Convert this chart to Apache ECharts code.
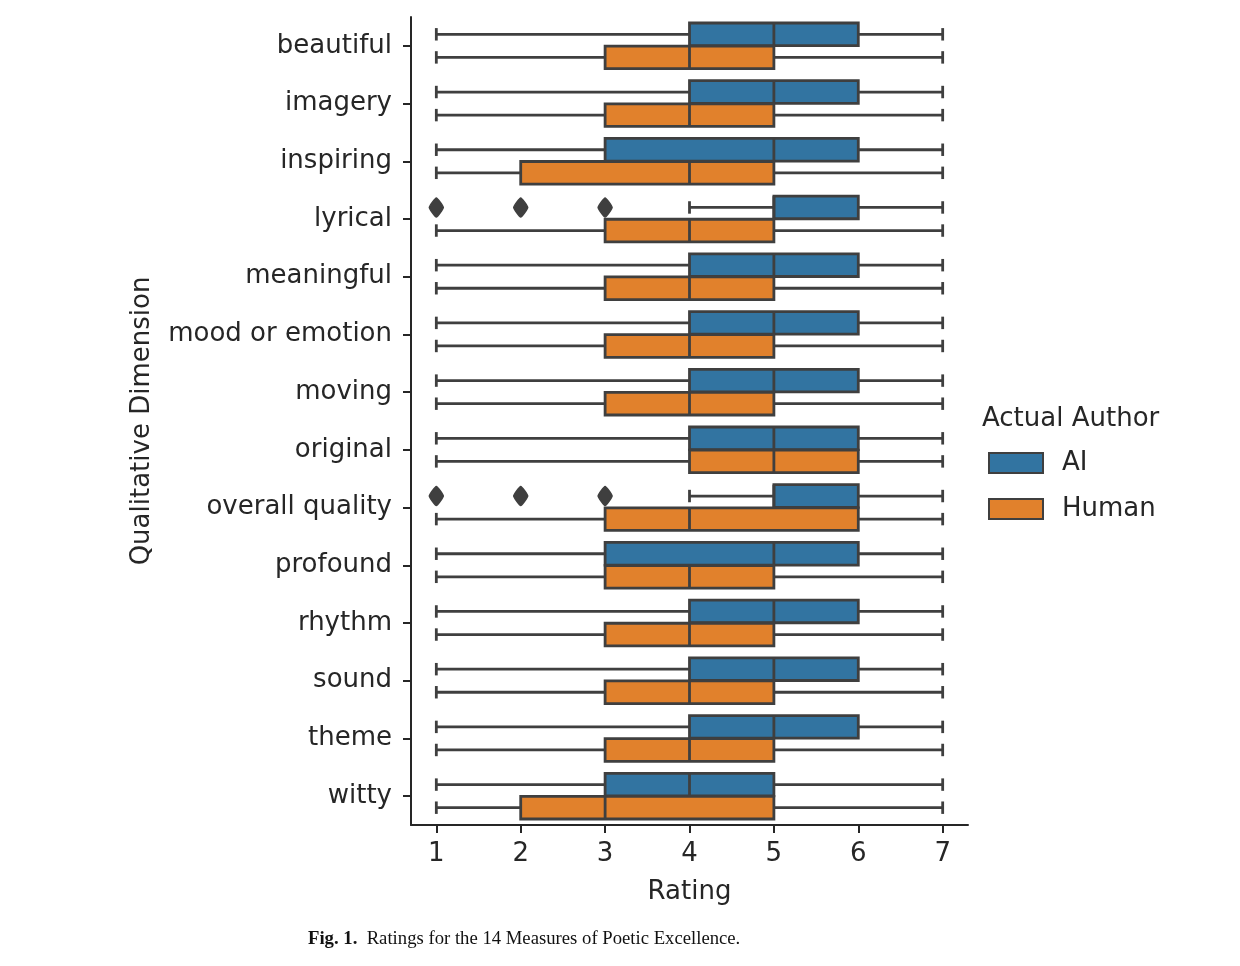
<!DOCTYPE html>
<html>
<head>
<meta charset="utf-8">
<script src="https://cdn.jsdelivr.net/npm/echarts@6/dist/echarts.min.js"></script>
<style>
  html, body { margin: 0; padding: 0; background: #fff; }
  #chart { width: 1240px; height: 966px; }
</style>
</head>
<body>
<div id="chart"></div>
<script>
var categories = ['beautiful', 'imagery', 'inspiring', 'lyrical', 'meaningful',
    'mood or emotion', 'moving', 'original', 'overall quality', 'profound',
    'rhythm', 'sound', 'theme', 'witty'];

// [min, q1, median, q3, max] per category
var aiStats = [
    [1, 4, 5, 6, 7], [1, 4, 5, 6, 7], [1, 3, 5, 6, 7], [4, 5, 5, 6, 7],
    [1, 4, 5, 6, 7], [1, 4, 5, 6, 7], [1, 4, 5, 6, 7], [1, 4, 5, 6, 7],
    [4, 5, 5, 6, 7], [1, 3, 5, 6, 7], [1, 4, 5, 6, 7], [1, 4, 5, 6, 7],
    [1, 4, 5, 6, 7], [1, 3, 4, 5, 7]
];
var humanStats = [
    [1, 3, 4, 5, 7], [1, 3, 4, 5, 7], [1, 2, 4, 5, 7], [1, 3, 4, 5, 7],
    [1, 3, 4, 5, 7], [1, 3, 4, 5, 7], [1, 3, 4, 5, 7], [1, 4, 5, 6, 7],
    [1, 3, 4, 6, 7], [1, 3, 4, 5, 7], [1, 3, 4, 5, 7], [1, 3, 4, 5, 7],
    [1, 3, 4, 5, 7], [1, 2, 3, 5, 7]
];
// [category index, value]
var aiOutliers = [[3, 1], [3, 2], [3, 3], [8, 1], [8, 2], [8, 3]];
var ratingTicks = [1, 2, 3, 4, 5, 6, 7];

var aiColor = '#3274a1';
var humanColor = '#e1812c';
var edgeColor = '#3f3f3f';
var textColor = '#262626';

function withIndex(stats) {
    return stats.map(function (s, i) { return [i].concat(s); });
}

function boxRenderer(offset) {
    return function (params, api) {
        var cat = api.value(0);
        var band = api.size([0, 1])[1];
        var cy = api.coord([api.value(1), cat])[1] + offset * band;
        var h = band * 0.392;
        var px = function (i) { return api.coord([api.value(i), cat])[0]; };
        var xmin = px(1), q1 = px(2), med = px(3), q3 = px(4), xmax = px(5);
        var cap = h * 0.55;
        var ls = { stroke: edgeColor, lineWidth: 2.8 };
        return {
            type: 'group',
            children: [
                { type: 'line', shape: { x1: xmin, y1: cy, x2: q1, y2: cy }, style: ls },
                { type: 'line', shape: { x1: q3, y1: cy, x2: xmax, y2: cy }, style: ls },
                { type: 'line', shape: { x1: xmin, y1: cy - cap / 2, x2: xmin, y2: cy + cap / 2 }, style: ls },
                { type: 'line', shape: { x1: xmax, y1: cy - cap / 2, x2: xmax, y2: cy + cap / 2 }, style: ls },
                { type: 'rect', shape: { x: q1, y: cy - h / 2, width: q3 - q1, height: h },
                  style: { fill: api.visual('color'), stroke: edgeColor, lineWidth: 2.8 } },
                { type: 'line', shape: { x1: med, y1: cy - h / 2, x2: med, y2: cy + h / 2 }, style: ls }
            ]
        };
    };
}

function outlierRenderer(offset) {
    return function (params, api) {
        var c = api.coord([api.value(1), api.value(0)]);
        var band = api.size([0, 1])[1];
        var cy = c[1] + offset * band;
        var w = 7, hh = 9.5;
        return {
            type: 'polygon',
            shape: { points: [[c[0], cy - hh], [c[0] + w, cy], [c[0], cy + hh], [c[0] - w, cy]], smooth: 0.15 },
            style: { fill: edgeColor, stroke: edgeColor, lineWidth: 1.5 }
        };
    };
}

var myChart = echarts.init(document.getElementById('chart'));
var option = {
    backgroundColor: '#fff',
    animation: false,
    textStyle: { fontFamily: 'DejaVu Sans' },
    grid: { left: 411, top: 17, right: 272, bottom: 141 },
    title: {
        text: 'Actual Author',
        left: 982, top: 406,
        padding: 0,
        textStyle: { fontFamily: 'DejaVu Sans', fontSize: 26, fontWeight: 'normal', color: textColor }
    },
    legend: {
        data: ['AI', 'Human'],
        orient: 'vertical',
        left: 988, top: 450,
        padding: 0,
        icon: 'rect',
        itemWidth: 54, itemHeight: 20, itemGap: 20,
        itemStyle: { borderColor: edgeColor, borderWidth: 2 },
        textStyle: { fontFamily: 'DejaVu Sans', fontSize: 26, color: textColor, padding: [0, 0, 0, 14] }
    },
    xAxis: {
        type: 'value',
        min: 0.7, max: 7.3,
        name: 'Rating',
        nameLocation: 'middle',
        nameGap: 54,
        nameTextStyle: { fontFamily: 'DejaVu Sans', fontSize: 26, color: textColor },
        axisLine: { show: true, lineStyle: { color: textColor, width: 2 } },
        axisTick: { show: true, length: 8, customValues: ratingTicks, lineStyle: { color: textColor, width: 2 } },
        axisLabel: { customValues: ratingTicks, fontSize: 26, color: textColor, margin: 16 },
        splitLine: { show: false }
    },
    yAxis: {
        type: 'category',
        data: categories,
        inverse: true,
        name: 'Qualitative Dimension',
        nameLocation: 'middle',
        nameGap: 256,
        nameTextStyle: { fontFamily: 'DejaVu Sans', fontSize: 26, color: textColor },
        axisLine: { show: true, lineStyle: { color: textColor, width: 2 } },
        axisTick: { show: true, alignWithLabel: true, length: 8, lineStyle: { color: textColor, width: 2 } },
        axisLabel: { fontSize: 26, color: textColor, margin: 19, padding: [4, 0, 0, 0] },
        splitLine: { show: false }
    },
    graphic: [{
        type: 'text',
        left: 308, top: 930,
        style: {
            text: '{b|Fig. 1.}  Ratings for the 14 Measures of Poetic Excellence.',
            fontFamily: 'Liberation Serif', fontSize: 18.7, fill: '#111',
            rich: { b: { fontFamily: 'Liberation Serif', fontSize: 18.7, fontWeight: 'bold', fill: '#111' } }
        }
    }],
    series: [
        {
            name: 'AI', type: 'custom',
            renderItem: boxRenderer(-0.2),
            itemStyle: { color: aiColor },
            encode: { y: 0, x: [1, 2, 3, 4, 5] },
            data: withIndex(aiStats)
        },
        {
            name: 'Human', type: 'custom',
            renderItem: boxRenderer(0.2),
            itemStyle: { color: humanColor },
            encode: { y: 0, x: [1, 2, 3, 4, 5] },
            data: withIndex(humanStats)
        },
        {
            name: 'outliers', type: 'custom',
            renderItem: outlierRenderer(-0.2),
            encode: { y: 0, x: 1 },
            data: aiOutliers
        }
    ]
};
myChart.setOption(option);
</script>
</body>
</html>
